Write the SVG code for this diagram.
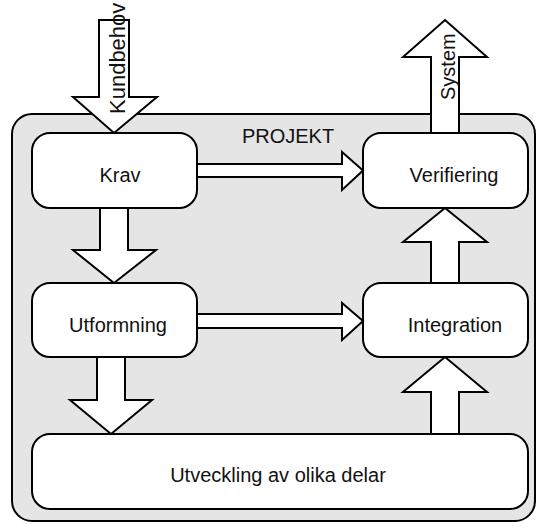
<svg xmlns="http://www.w3.org/2000/svg" width="537" height="526" viewBox="0 0 537 526">
<style>
.outer{fill:#e5e5e5;stroke:#000;stroke-width:2}
.box{fill:#fff;stroke:#000;stroke-width:2}
.arr{fill:#fff;stroke:#000;stroke-width:2;stroke-linejoin:miter}
text{font-family:"Liberation Sans",Arial,sans-serif;font-size:20px;fill:#111}
.c{text-anchor:middle}
</style>
<rect width="537" height="526" fill="#fff"/>
<g id="projekt">
<rect class="outer" x="12" y="114" width="523" height="407" rx="20" ry="20"/>
<text class="c" x="288" y="143">PROJEKT</text>
</g>
<g id="krav">
<rect class="box" x="32" y="133" width="165" height="75" rx="18" ry="18"/>
<text class="c" x="120" y="182">Krav</text>
</g>
<g id="utformning">
<rect class="box" x="32" y="283" width="165" height="74" rx="18" ry="18"/>
<text class="c" x="118" y="332">Utformning</text>
</g>
<g id="verifiering">
<rect class="box" x="363" y="133" width="165" height="75" rx="18" ry="18"/>
<text class="c" x="454" y="182">Verifiering</text>
</g>
<g id="integration">
<rect class="box" x="363" y="283" width="165" height="74" rx="18" ry="18"/>
<text class="c" x="455" y="332">Integration</text>
</g>
<g id="utveckling">
<rect class="box" x="32" y="434" width="496" height="75" rx="18" ry="18"/>
<text class="c" x="278" y="482">Utveckling av olika delar</text>
</g>
<g id="connectors">
<polygon class="arr" points="99,20 129,20 129,97 157,97 114,133 73,97 99,97"/>
<text transform="translate(125,114) rotate(-90)" style="font-size:22px">Kundbehov</text>
<polygon class="arr" points="431,133 431,57 403,57 445,20 487,57 459,57 459,133"/>
<text transform="translate(455,100) rotate(-90)">System</text>
<polygon class="arr" points="100,208 128,208 128,250 156,250 114,283 73,250 100,250"/>
<polygon class="arr" points="97,357 125,357 125,400 152,400 111,434 70,400 97,400"/>
<polygon class="arr" points="431,283 431,242 403,242 445,208 487,242 459,242 459,283"/>
<polygon class="arr" points="431,434 431,392 403,392 445,357 487,392 459,392 459,434"/>
<polygon class="arr" points="197,164 342,164 342,152 363,170.5 342,190 342,177 197,177"/>
<polygon class="arr" points="197,314 342,314 342,303 363,321 342,340 342,328 197,328"/>
</g>
</svg>
